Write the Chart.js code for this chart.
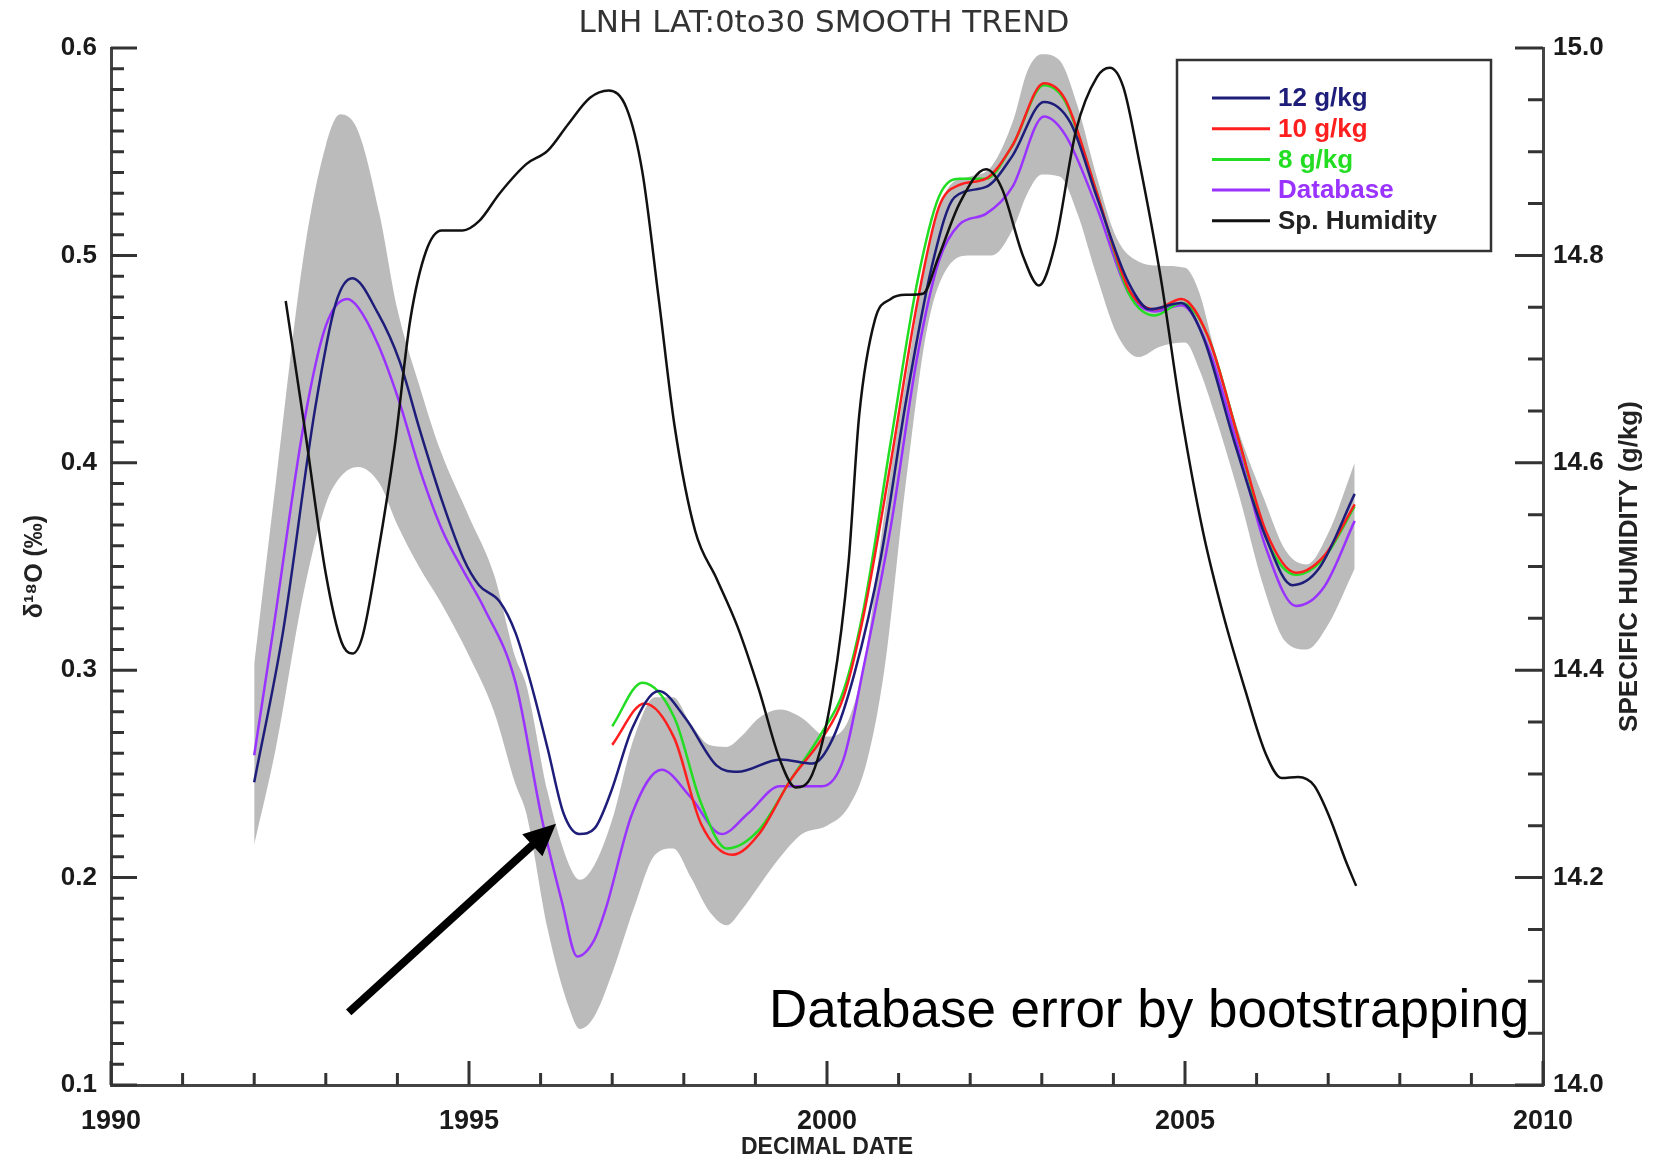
<!DOCTYPE html>
<html>
<head>
<meta charset="utf-8">
<title>LNH LAT:0to30 SMOOTH TREND</title>
<script src="https://cdn.jsdelivr.net/npm/chart.js@4.4.1/dist/chart.umd.min.js"></script>
<style>
  html, body { margin: 0; padding: 0; background: #fff; }
  #wrap { width: 1658px; height: 1161px; position: relative; }
</style>
</head>
<body>
<div id="wrap"><canvas id="chart"></canvas></div>
<script>
// d18O (left axis), decimal years on x
const years12 = [1992.0, 1992.4, 1992.85, 1993.14, 1993.37, 1993.73, 1994.03, 1994.32, 1994.62, 1994.92, 1995.14, 1995.43, 1995.65, 1995.87, 1996.1, 1996.32, 1996.54, 1996.76, 1996.98, 1997.28, 1997.65, 1998.02, 1998.46, 1998.75, 1999.35, 1999.8, 2000.08, 2000.38, 2000.75, 2001.11, 2001.48, 2001.78, 2002.22, 2002.59, 2003.03, 2003.4, 2003.77, 2004.21, 2004.51, 2004.95, 2005.25, 2005.69, 2006.13, 2006.5, 2006.87, 2007.37];
const g12 = [0.246, 0.318, 0.426, 0.477, 0.489, 0.472, 0.449, 0.415, 0.382, 0.354, 0.341, 0.333, 0.318, 0.293, 0.262, 0.231, 0.221, 0.224, 0.241, 0.272, 0.290, 0.277, 0.254, 0.251, 0.257, 0.255, 0.267, 0.298, 0.354, 0.431, 0.497, 0.528, 0.533, 0.548, 0.574, 0.564, 0.528, 0.487, 0.474, 0.477, 0.461, 0.410, 0.364, 0.341, 0.349, 0.385];

const yearsDb = [1992.0, 1992.26, 1992.7, 1993.0, 1993.3, 1993.45, 1993.73, 1994.03, 1994.32, 1994.62, 1994.92, 1995.21, 1995.65, 1996.02, 1996.3, 1996.51, 1996.75, 1996.91, 1997.28, 1997.69, 1998.09, 1998.53, 1998.9, 1999.34, 1999.93, 2000.23, 2000.52, 2000.89, 2001.26, 2001.56, 2001.85, 2002.22, 2002.59, 2003.03, 2003.33, 2003.77, 2004.21, 2004.58, 2004.95, 2005.32, 2005.76, 2006.13, 2006.55, 2006.94, 2007.37];
const database = [0.259, 0.318, 0.420, 0.466, 0.479, 0.475, 0.457, 0.429, 0.396, 0.368, 0.348, 0.330, 0.294, 0.228, 0.188, 0.162, 0.170, 0.185, 0.231, 0.252, 0.239, 0.221, 0.231, 0.244, 0.244, 0.257, 0.303, 0.369, 0.451, 0.497, 0.515, 0.520, 0.533, 0.567, 0.558, 0.523, 0.482, 0.473, 0.476, 0.456, 0.405, 0.359, 0.331, 0.340, 0.372];

const years10 = [1997.0, 1997.45, 1997.87, 1998.24, 1998.68, 1999.05, 1999.49, 1999.93, 2000.23, 2000.52, 2000.89, 2001.26, 2001.56, 2001.85, 2002.22, 2002.59, 2003.03, 2003.33, 2003.77, 2004.21, 2004.58, 2004.95, 2005.32, 2005.76, 2006.13, 2006.55, 2006.94, 2007.37];
const g10 = [0.264, 0.284, 0.267, 0.226, 0.211, 0.221, 0.247, 0.267, 0.287, 0.328, 0.400, 0.477, 0.523, 0.534, 0.537, 0.553, 0.583, 0.575, 0.530, 0.484, 0.474, 0.479, 0.461, 0.410, 0.367, 0.347, 0.355, 0.380];

const years8 = [1997.0, 1997.42, 1997.87, 1998.24, 1998.6, 1999.05, 1999.49, 1999.93, 2000.23, 2000.52, 2000.89, 2001.26, 2001.56, 2001.85, 2002.22, 2002.59, 2003.03, 2003.33, 2003.77, 2004.21, 2004.58, 2004.95, 2005.32, 2005.76, 2006.13, 2006.55, 2006.94, 2007.37];
const g8 = [0.273, 0.294, 0.277, 0.236, 0.214, 0.223, 0.247, 0.270, 0.290, 0.331, 0.410, 0.487, 0.528, 0.537, 0.537, 0.553, 0.582, 0.574, 0.530, 0.482, 0.471, 0.477, 0.461, 0.410, 0.364, 0.346, 0.354, 0.379];

// bootstrap error band of the database series
const bandYears = [1992.0, 1992.3, 1992.7, 1993.0, 1993.2, 1993.45, 1993.75, 1994.0, 1994.3, 1994.6, 1995.0, 1995.35, 1995.65, 1995.8, 1996.1, 1996.4, 1996.55, 1996.75, 1997.0, 1997.3, 1997.6, 1997.85, 1998.1, 1998.35, 1998.6, 1998.8, 1999.05, 1999.35, 1999.65, 2000.0, 2000.3, 2000.55, 2000.8, 2001.1, 2001.4, 2001.7, 2002.0, 2002.3, 2002.6, 2002.8, 2003.0, 2003.25, 2003.5, 2003.75, 2004.05, 2004.35, 2004.65, 2005.0, 2005.2, 2005.4, 2005.75, 2006.1, 2006.4, 2006.7, 2007.0, 2007.37];
const bandHigh = [0.303, 0.390, 0.502, 0.553, 0.568, 0.560, 0.520, 0.474, 0.438, 0.406, 0.374, 0.346, 0.306, 0.293, 0.241, 0.206, 0.199, 0.206, 0.228, 0.267, 0.287, 0.287, 0.274, 0.264, 0.263, 0.268, 0.277, 0.281, 0.277, 0.268, 0.276, 0.310, 0.375, 0.440, 0.500, 0.533, 0.538, 0.543, 0.565, 0.589, 0.597, 0.594, 0.572, 0.540, 0.508, 0.497, 0.495, 0.494, 0.482, 0.456, 0.415, 0.383, 0.358, 0.351, 0.366, 0.400];
const bandLow = [0.216, 0.262, 0.339, 0.380, 0.393, 0.398, 0.390, 0.370, 0.350, 0.333, 0.307, 0.280, 0.245, 0.231, 0.175, 0.137, 0.127, 0.133, 0.154, 0.185, 0.211, 0.214, 0.200, 0.184, 0.177, 0.184, 0.196, 0.210, 0.221, 0.225, 0.234, 0.255, 0.300, 0.390, 0.465, 0.495, 0.500, 0.500, 0.513, 0.530, 0.539, 0.538, 0.520, 0.492, 0.462, 0.451, 0.456, 0.458, 0.445, 0.425, 0.385, 0.340, 0.314, 0.310, 0.322, 0.349];

// specific humidity (right axis, g/kg)
const yearsHum = [1992.44, 1992.7, 1993.0, 1993.22, 1993.37, 1993.51, 1993.73, 1993.96, 1994.18, 1994.4, 1994.62, 1994.91, 1995.14, 1995.43, 1995.8, 1996.1, 1996.39, 1996.69, 1996.95, 1997.2, 1997.42, 1997.65, 1997.87, 1998.16, 1998.46, 1998.75, 1999.05, 1999.34, 1999.56, 1999.79, 2000.08, 2000.3, 2000.45, 2000.67, 2000.89, 2001.11, 2001.34, 2001.56, 2001.85, 2002.22, 2002.44, 2002.74, 2002.96, 2003.18, 2003.48, 2003.77, 2003.95, 2004.14, 2004.36, 2004.66, 2004.95, 2005.25, 2005.54, 2005.84, 2006.13, 2006.35, 2006.58, 2006.8, 2007.02, 2007.24, 2007.39];
const humidity = [14.756, 14.636, 14.493, 14.427, 14.416, 14.432, 14.513, 14.615, 14.738, 14.804, 14.824, 14.824, 14.833, 14.860, 14.888, 14.901, 14.927, 14.952, 14.959, 14.942, 14.881, 14.758, 14.636, 14.534, 14.488, 14.442, 14.381, 14.314, 14.287, 14.299, 14.381, 14.503, 14.646, 14.738, 14.758, 14.762, 14.763, 14.799, 14.850, 14.883, 14.865, 14.799, 14.771, 14.809, 14.921, 14.972, 14.981, 14.962, 14.891, 14.779, 14.646, 14.534, 14.452, 14.381, 14.319, 14.296, 14.297, 14.289, 14.258, 14.217, 14.192];

// axis ranges and tick steps
const xRange = [1990, 2010];
const d18ORange = [0.1, 0.6];
const humRange = [14.0, 15.0];
const xMajor = 5, xMinor = 1;
const d18OMajor = 0.1, d18OMinor = 0.01;
const humMajor = 0.2, humMinor = 0.05;

// annotation in data units (year, d18O)
const arrowFrom = [1993.32, 0.135];
const arrowTo = [1996.215, 0.226];
const noteAt = [1999.19, 0.128];
const noteText = 'Database error by bootstrapping';

const FONT = "'Liberation Sans', Arial, sans-serif";
const legendOrder = ['12 g/kg', '10 g/kg', '8 g/kg', 'Database', 'Sp. Humidity'];

const pts = (xs, ys) => xs.map((x, i) => ({ x, y: ys[i] }));
const line = (label, xs, ys, color, axis, order) => ({
  label, data: pts(xs, ys), yAxisID: axis, order,
  borderColor: color, backgroundColor: color, borderWidth: 2.5,
  pointRadius: 0, fill: false, cubicInterpolationMode: 'monotone'
});

const decor = {
  id: 'decor',
  afterDraw(chart) {
    const { ctx, chartArea: a, scales } = chart;
    const x = scales.x, y = scales.y, y1 = scales.y1;
    ctx.save();

    // title
    ctx.fillStyle = '#333';
    ctx.font = "31px 'DejaVu Sans', sans-serif";
    ctx.textAlign = 'center';
    ctx.textBaseline = 'middle';
    ctx.fillText('LNH LAT:0to30 SMOOTH TREND', 824, 24);

    // inward ticks
    ctx.strokeStyle = '#333';
    ctx.lineWidth = 3;
    ctx.beginPath();
    const steps = (lo, hi, st) => { const n = Math.round((hi - lo) / st); return Array.from({ length: n + 1 }, (_, i) => lo + i * st); };
    const isMajor = (v, lo, maj) => Math.abs((v - lo) / maj - Math.round((v - lo) / maj)) < 1e-6;
    steps(xRange[0], xRange[1], xMinor).forEach(v => {
      const px = x.getPixelForValue(v), len = isMajor(v, xRange[0], xMajor) ? 24 : 12;
      ctx.moveTo(px, a.bottom); ctx.lineTo(px, a.bottom - len);
    });
    steps(d18ORange[0], d18ORange[1], d18OMinor).forEach(v => {
      const py = y.getPixelForValue(v), len = isMajor(v, d18ORange[0], d18OMajor) ? 26 : 13;
      ctx.moveTo(a.left, py); ctx.lineTo(a.left + len, py);
    });
    steps(humRange[0], humRange[1], humMinor).forEach(v => {
      const py = y1.getPixelForValue(v), len = isMajor(v, humRange[0], humMajor) ? 28 : 15;
      ctx.moveTo(a.right, py); ctx.lineTo(a.right - len, py);
    });
    ctx.stroke();

    // right axis title, reading bottom to top
    ctx.save();
    ctx.translate(1630, (a.top + a.bottom) / 2);
    ctx.rotate(-Math.PI / 2);
    ctx.fillStyle = '#222';
    ctx.font = `bold 26px ${FONT}`;
    ctx.textAlign = 'center';
    ctx.textBaseline = 'middle';
    ctx.fillText('SPECIFIC HUMIDITY (g/kg)', 0, 0);
    ctx.restore();

    // legend box
    ctx.strokeStyle = '#333';
    ctx.lineWidth = 2.5;
    ctx.strokeRect(1177, 60, 314, 191);
    ctx.font = `bold 26px ${FONT}`;
    ctx.textAlign = 'left';
    ctx.textBaseline = 'middle';
    legendOrder.forEach((lab, i) => {
      const ds = chart.data.datasets.find(d => d.label === lab);
      const ly = 98 + i * 30.7;
      ctx.strokeStyle = ds.borderColor;
      ctx.lineWidth = 3;
      ctx.beginPath(); ctx.moveTo(1212, ly); ctx.lineTo(1270, ly); ctx.stroke();
      ctx.fillStyle = lab === 'Sp. Humidity' ? '#222' : ds.borderColor;
      ctx.fillText(lab, 1278, ly + 1);
    });

    // arrow
    const ax = x.getPixelForValue(arrowFrom[0]), ay = y.getPixelForValue(arrowFrom[1]);
    const bx = x.getPixelForValue(arrowTo[0]), by = y.getPixelForValue(arrowTo[1]);
    const ang = Math.atan2(by - ay, bx - ax), head = 32, hw = 15;
    const cx = bx - Math.cos(ang) * head, cy = by - Math.sin(ang) * head;
    ctx.strokeStyle = '#000';
    ctx.fillStyle = '#000';
    ctx.lineWidth = 8;
    ctx.beginPath(); ctx.moveTo(ax, ay); ctx.lineTo(cx + Math.cos(ang) * 4, cy + Math.sin(ang) * 4); ctx.stroke();
    ctx.beginPath();
    ctx.moveTo(bx, by);
    ctx.lineTo(cx - Math.sin(ang) * hw, cy + Math.cos(ang) * hw);
    ctx.lineTo(cx + Math.sin(ang) * hw, cy - Math.cos(ang) * hw);
    ctx.closePath(); ctx.fill();

    // annotation text
    ctx.font = `53px ${FONT}`;
    ctx.textBaseline = 'alphabetic';
    ctx.fillText(noteText, x.getPixelForValue(noteAt[0]), y.getPixelForValue(noteAt[1]));
    ctx.restore();
  }
};

const tickFont = { family: FONT, size: 26, weight: 'bold' };

new Chart(document.getElementById('chart'), {
  type: 'line',
  data: {
    datasets: [
      line('Sp. Humidity', yearsHum, humidity, '#111111', 'y1', 1),
      line('12 g/kg', years12, g12, '#1e1e7a', 'y', 2),
      line('10 g/kg', years10, g10, '#ff1f1f', 'y', 3),
      line('8 g/kg', years8, g8, '#22dd22', 'y', 4),
      line('Database', yearsDb, database, '#9a33ff', 'y', 5),
      {
        label: 'error high', data: pts(bandYears, bandHigh), yAxisID: 'y', order: 10,
        borderColor: 'rgba(0,0,0,0)', borderWidth: 0, pointRadius: 0,
        backgroundColor: '#bbbbbb', fill: '+1', cubicInterpolationMode: 'monotone'
      },
      {
        label: 'error low', data: pts(bandYears, bandLow), yAxisID: 'y', order: 11,
        borderColor: 'rgba(0,0,0,0)', borderWidth: 0, pointRadius: 0,
        fill: false, cubicInterpolationMode: 'monotone'
      }
    ]
  },
  options: {
    responsive: true,
    maintainAspectRatio: false,
    animation: false,
    events: [],
    layout: { padding: { top: 48, left: 0, right: 0, bottom: 0 } },
    plugins: { legend: { display: false }, title: { display: false }, tooltip: { enabled: false } },
    scales: {
      x: {
        type: 'linear', position: 'bottom', min: xRange[0], max: xRange[1],
        grid: { display: false, drawTicks: false },
        border: { display: true, color: '#444', width: 3 },
        ticks: { stepSize: xMajor, padding: 20, color: '#1a1a1a', font: { ...tickFont, size: 27 }, callback: v => String(v) },
        title: { display: true, text: 'DECIMAL DATE', color: '#222', font: { family: FONT, size: 23, weight: 'bold' }, padding: { top: 0, bottom: 0 } },
        afterFit: s => { s.height = 76; }
      },
      y: {
        type: 'linear', position: 'left', min: d18ORange[0], max: d18ORange[1],
        grid: { display: false, drawTicks: false },
        border: { display: true, color: '#444', width: 3 },
        ticks: { stepSize: d18OMajor, padding: 14, color: '#1a1a1a', font: tickFont, callback: v => v.toFixed(1) },
        title: { display: true, text: 'δ¹⁸O (‰)', color: '#222', font: { family: FONT, size: 25, weight: 'bold' }, padding: { top: 20, bottom: 0 } },
        afterFit: s => { s.width = 111; }
      },
      y1: {
        type: 'linear', position: 'right', min: humRange[0], max: humRange[1],
        grid: { display: false, drawTicks: false },
        border: { display: true, color: '#444', width: 3 },
        ticks: { stepSize: humMajor, padding: 10, color: '#1a1a1a', font: tickFont, callback: v => v.toFixed(1) },
        afterFit: s => { s.width = 115; }
      }
    }
  },
  plugins: [decor]
});
</script>
</body>
</html>
